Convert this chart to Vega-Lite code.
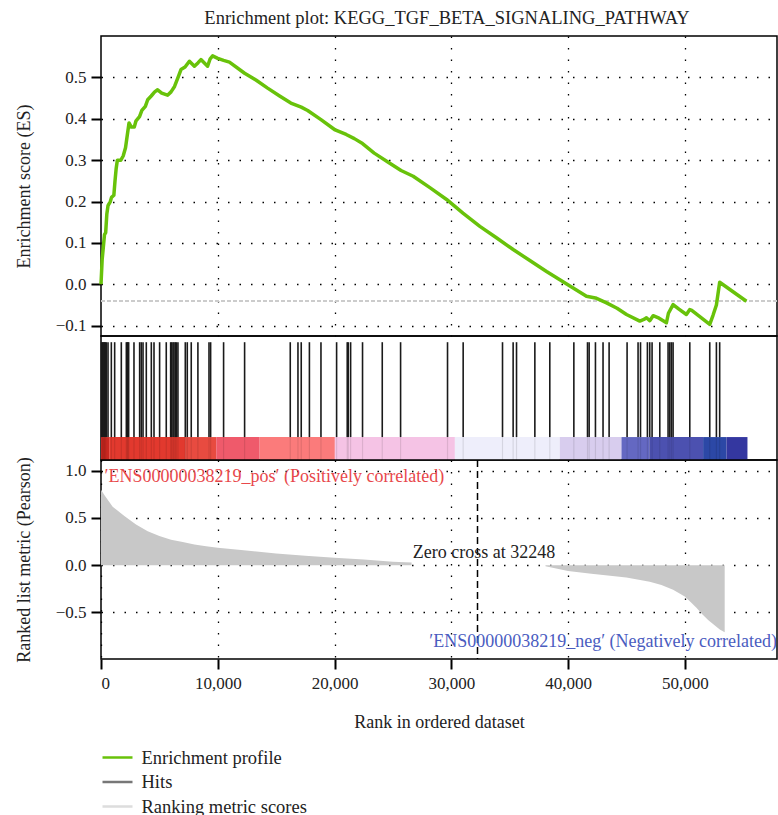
{
  "$schema": "https://vega.github.io/schema/vega-lite/v6.json",
  "padding": {"left": 14, "top": 8, "right": 0, "bottom": 0},
  "background": "white",
  "bounds": "flush",
  "spacing": 0,
  "title": {"text": "Enrichment plot: KEGG_TGF_BETA_SIGNALING_PATHWAY", "font": "Liberation Serif", "fontSize": 18.5, "fontWeight": "normal", "color": "#222", "anchor": "middle", "frame": "group", "offset": 8, "dx": 8},
  "config": {
    "font": "Liberation Serif",
    "view": {"stroke": "#000", "strokeWidth": 1.5},
    "concat": {"spacing": 0},
    "axis": {"labelFont": "Liberation Serif", "labelFontSize": 17, "labelColor": "#222", "titleFont": "Liberation Serif", "titleFontSize": 18, "titleFontWeight": "normal", "titleColor": "#222", "tickColor": "#000", "tickWidth": 2, "tickSize": 10, "domain": false, "gridColor": "#000", "gridDash": [1.5, 10], "gridWidth": 1.3, "gridOpacity": 1, "labelPadding": 5}
  },
  "datasets": {
    "es": [
      {"rank": 0, "es": 0.0}, {"rank": 100, "es": 0.06}, {"rank": 200, "es": 0.09}, {"rank": 300, "es": 0.12}, {"rank": 400, "es": 0.125}, {"rank": 500, "es": 0.17}, {"rank": 600, "es": 0.19}, {"rank": 800, "es": 0.2}, {"rank": 900, "es": 0.21}, {"rank": 1100, "es": 0.215}, {"rank": 1200, "es": 0.25}, {"rank": 1300, "es": 0.28}, {"rank": 1400, "es": 0.3}, {"rank": 1700, "es": 0.3}, {"rank": 1900, "es": 0.31}, {"rank": 2100, "es": 0.33}, {"rank": 2250, "es": 0.36}, {"rank": 2400, "es": 0.39}, {"rank": 2600, "es": 0.38}, {"rank": 2850, "es": 0.38}, {"rank": 3000, "es": 0.395}, {"rank": 3300, "es": 0.405}, {"rank": 3500, "es": 0.42}, {"rank": 3800, "es": 0.43}, {"rank": 4000, "es": 0.446}, {"rank": 4300, "es": 0.455}, {"rank": 4600, "es": 0.465}, {"rank": 4850, "es": 0.47}, {"rank": 5200, "es": 0.462}, {"rank": 5700, "es": 0.457}, {"rank": 6000, "es": 0.465}, {"rank": 6300, "es": 0.478}, {"rank": 6600, "es": 0.5}, {"rank": 6850, "es": 0.519}, {"rank": 7200, "es": 0.525}, {"rank": 7570, "es": 0.539}, {"rank": 8000, "es": 0.527}, {"rank": 8300, "es": 0.535}, {"rank": 8560, "es": 0.543}, {"rank": 9130, "es": 0.527}, {"rank": 9350, "es": 0.545}, {"rank": 9560, "es": 0.552}, {"rank": 10000, "es": 0.546}, {"rank": 10500, "es": 0.541}, {"rank": 11000, "es": 0.537}, {"rank": 12300, "es": 0.51}, {"rank": 13300, "es": 0.493}, {"rank": 14270, "es": 0.474}, {"rank": 15300, "es": 0.455}, {"rank": 16260, "es": 0.438}, {"rank": 17150, "es": 0.428}, {"rank": 17700, "es": 0.42}, {"rank": 18840, "es": 0.398}, {"rank": 20000, "es": 0.374}, {"rank": 21000, "es": 0.362}, {"rank": 21700, "es": 0.352}, {"rank": 22400, "es": 0.34}, {"rank": 23400, "es": 0.317}, {"rank": 24600, "es": 0.295}, {"rank": 25700, "es": 0.275}, {"rank": 26740, "es": 0.261}, {"rank": 28200, "es": 0.233}, {"rank": 29600, "es": 0.205}, {"rank": 31000, "es": 0.172}, {"rank": 32450, "es": 0.14}, {"rank": 33900, "es": 0.112}, {"rank": 35300, "es": 0.084}, {"rank": 36700, "es": 0.058}, {"rank": 38160, "es": 0.031}, {"rank": 39300, "es": 0.011}, {"rank": 40440, "es": -0.009}, {"rank": 41580, "es": -0.029}, {"rank": 42350, "es": -0.033}, {"rank": 43300, "es": -0.045}, {"rank": 44200, "es": -0.058}, {"rank": 45010, "es": -0.073}, {"rank": 46150, "es": -0.089}, {"rank": 46500, "es": -0.085}, {"rank": 46720, "es": -0.081}, {"rank": 47000, "es": -0.088}, {"rank": 47290, "es": -0.076}, {"rank": 47800, "es": -0.082}, {"rank": 48430, "es": -0.093}, {"rank": 48600, "es": -0.07}, {"rank": 49000, "es": -0.049}, {"rank": 49500, "es": -0.06}, {"rank": 50140, "es": -0.073}, {"rank": 50430, "es": -0.061}, {"rank": 50600, "es": -0.063}, {"rank": 52140, "es": -0.097}, {"rank": 52420, "es": -0.075}, {"rank": 52710, "es": -0.05}, {"rank": 52990, "es": 0.005}, {"rank": 55280, "es": -0.041}
    ],
    "hits": [
      {"rank": 50}, {"rank": 140}, {"rank": 180}, {"rank": 255}, {"rank": 300}, {"rank": 370}, {"rank": 450}, {"rank": 600}, {"rank": 885}, {"rank": 1170}, {"rank": 1740}, {"rank": 2170}, {"rank": 2250}, {"rank": 2300}, {"rank": 2370}, {"rank": 2825}, {"rank": 3310}, {"rank": 3450}, {"rank": 3600}, {"rank": 3880}, {"rank": 4310}, {"rank": 4540}, {"rank": 5020}, {"rank": 5590}, {"rank": 5965}, {"rank": 6050}, {"rank": 6165}, {"rank": 6250}, {"rank": 6360}, {"rank": 6450}, {"rank": 6590}, {"rank": 7220}, {"rank": 7390}, {"rank": 7730}, {"rank": 8300}, {"rank": 9250}, {"rank": 9390}, {"rank": 10500}, {"rank": 12300}, {"rank": 16210}, {"rank": 16870}, {"rank": 17150}, {"rank": 17850}, {"rank": 18840}, {"rank": 20180}, {"rank": 21090}, {"rank": 21180}, {"rank": 21380}, {"rank": 22400}, {"rank": 24090}, {"rank": 25660}, {"rank": 29680}, {"rank": 31020}, {"rank": 34390}, {"rank": 35300}, {"rank": 35590}, {"rank": 37160}, {"rank": 38440}, {"rank": 40500}, {"rank": 41670}, {"rank": 41810}, {"rank": 42350}, {"rank": 43000}, {"rank": 43520}, {"rank": 45060}, {"rank": 46000}, {"rank": 46210}, {"rank": 46800}, {"rank": 47000}, {"rank": 47200}, {"rank": 47860}, {"rank": 48570}, {"rank": 48720}, {"rank": 48860}, {"rank": 49000}, {"rank": 50430}, {"rank": 52140}, {"rank": 52710}, {"rank": 52990}
    ],
    "bar": [
      {"start": 0, "end": 700, "tone": "t01"}, {"start": 700, "end": 7200, "tone": "t02"}, {"start": 7200, "end": 9870, "tone": "t03"}, {"start": 9870, "end": 13590, "tone": "t04"}, {"start": 13590, "end": 20030, "tone": "t05"}, {"start": 20030, "end": 30310, "tone": "t06"}, {"start": 30310, "end": 39300, "tone": "t07"}, {"start": 39300, "end": 44580, "tone": "t08"}, {"start": 44580, "end": 47000, "tone": "t09"}, {"start": 47000, "end": 51570, "tone": "t10"}, {"start": 51570, "end": 53570, "tone": "t11"}, {"start": 53570, "end": 55370, "tone": "t12"}
    ],
    "metric": [
      {"rank": 0, "metric": 0.8, "side": "pos"}, {"rank": 300, "metric": 0.74, "side": "pos"}, {"rank": 1000, "metric": 0.62, "side": "pos"}, {"rank": 2000, "metric": 0.52, "side": "pos"}, {"rank": 3000, "metric": 0.43, "side": "pos"}, {"rank": 4000, "metric": 0.36, "side": "pos"}, {"rank": 5000, "metric": 0.31, "side": "pos"}, {"rank": 6000, "metric": 0.27, "side": "pos"}, {"rank": 7000, "metric": 0.245, "side": "pos"}, {"rank": 8000, "metric": 0.22, "side": "pos"}, {"rank": 9000, "metric": 0.2, "side": "pos"}, {"rank": 10000, "metric": 0.185, "side": "pos"}, {"rank": 12000, "metric": 0.16, "side": "pos"}, {"rank": 15000, "metric": 0.125, "side": "pos"}, {"rank": 17500, "metric": 0.1, "side": "pos"}, {"rank": 20000, "metric": 0.08, "side": "pos"}, {"rank": 22500, "metric": 0.06, "side": "pos"}, {"rank": 25000, "metric": 0.037, "side": "pos"}, {"rank": 26600, "metric": 0.03, "side": "pos"},
      {"rank": 38070, "metric": -0.01, "side": "neg"}, {"rank": 40000, "metric": -0.06, "side": "neg"}, {"rank": 42000, "metric": -0.09, "side": "neg"}, {"rank": 45000, "metric": -0.13, "side": "neg"}, {"rank": 47000, "metric": -0.175, "side": "neg"}, {"rank": 48000, "metric": -0.21, "side": "neg"}, {"rank": 49000, "metric": -0.26, "side": "neg"}, {"rank": 50000, "metric": -0.33, "side": "neg"}, {"rank": 50500, "metric": -0.39, "side": "neg"}, {"rank": 51000, "metric": -0.45, "side": "neg"}, {"rank": 51500, "metric": -0.52, "side": "neg"}, {"rank": 52000, "metric": -0.58, "side": "neg"}, {"rank": 52500, "metric": -0.63, "side": "neg"}, {"rank": 53000, "metric": -0.68, "side": "neg"}, {"rank": 53420, "metric": -0.71, "side": "neg"}
    ],
    "series": [
      {"series": "Enrichment profile"}, {"series": "Hits"}, {"series": "Ranking metric scores"}
    ]
  },
  "vconcat": [
    {
      "width": 676,
      "height": 300,
      "layer": [
        {
          "data": {"name": "es"},
          "mark": {"type": "rule", "stroke": "#cccccc", "strokeWidth": 1.2, "strokeDash": [4, 2]},
          "encoding": {"y": {"datum": -0.04, "type": "quantitative", "scale": {"domain": [-0.125, 0.6], "nice": false, "zero": false}}}
        },
        {
          "data": {"name": "es"},
          "mark": {"type": "line", "stroke": "#68c20a", "strokeWidth": 3.5, "strokeJoin": "round"},
          "encoding": {
            "x": {"field": "rank", "type": "quantitative", "scale": {"domain": [0, 57900], "nice": false, "zero": false},
              "axis": {"values": [10000, 20000, 30000, 40000, 50000], "labels": false, "ticks": false, "title": null, "grid": true}},
            "y": {"field": "es", "type": "quantitative", "scale": {"domain": [-0.125, 0.6], "nice": false, "zero": false},
              "axis": {"values": [-0.1, 0, 0.1, 0.2, 0.3, 0.4, 0.5], "format": ".1f", "title": "Enrichment score (ES)", "grid": true, "titlePadding": 22}}
          }
        }
      ]
    },
    {
      "width": 676,
      "height": 124,
      "layer": [
        {
          "data": {"name": "bar"},
          "mark": {"type": "rect"},
          "encoding": {
            "x": {"field": "start", "type": "quantitative", "scale": {"domain": [0, 57900], "nice": false, "zero": false}, "axis": null},
            "x2": {"field": "end"},
            "y": {"datum": 0, "type": "quantitative", "scale": {"domain": [0, 100], "nice": false}, "axis": null},
            "y2": {"datum": 18.5},
            "fill": {"field": "tone", "type": "nominal", "legend": null,
              "scale": {"domain": ["t01", "t02", "t03", "t04", "t05", "t06", "t07", "t08", "t09", "t10", "t11", "t12"],
                "range": ["#d62a22", "#e2392e", "#e84b40", "#ef5a6b", "#fb7b7b", "#f5c3e5", "#eeeefb", "#d8cdee", "#6468c2", "#4c51b0", "#2c48a6", "#3437a0"]}}
          }
        },
        {
          "data": {"name": "hits"},
          "mark": {"type": "rule", "stroke": "#000", "strokeWidth": 1.2, "opacity": 0.1},
          "encoding": {
            "x": {"field": "rank", "type": "quantitative", "scale": {"domain": [0, 57900], "nice": false, "zero": false}, "axis": null},
            "y": {"datum": 0, "type": "quantitative", "scale": {"domain": [0, 100], "nice": false}, "axis": null},
            "y2": {"datum": 18.5}
          }
        },
        {
          "data": {"name": "hits"},
          "mark": {"type": "rule", "stroke": "#1a1a1a", "strokeWidth": 1.6},
          "encoding": {
            "x": {"field": "rank", "type": "quantitative", "scale": {"domain": [0, 57900], "nice": false, "zero": false}, "axis": null},
            "y": {"datum": 18.5, "type": "quantitative", "scale": {"domain": [0, 100], "nice": false}, "axis": null},
            "y2": {"datum": 95}
          }
        }
      ]
    },
    {
      "width": 676,
      "height": 199,
      "layer": [
        {
          "data": {"name": "metric"},
          "mark": {"type": "area", "fill": "#c8c8c8"},
          "encoding": {
            "x": {"field": "rank", "type": "quantitative", "scale": {"domain": [0, 57900], "nice": false, "zero": false},
              "axis": {"values": [0, 10000, 20000, 30000, 40000, 50000], "format": ",d", "title": "Rank in ordered dataset", "grid": true, "titlePadding": 22, "labelPadding": 6}},
            "y": {"field": "metric", "type": "quantitative", "scale": {"domain": [-0.993, 1.114], "nice": false, "zero": false},
              "axis": {"values": [-0.5, 0, 0.5, 1.0], "format": ".1f", "title": "Ranked list metric (Pearson)", "grid": true, "titlePadding": 22}},
            "y2": {"datum": 0},
            "detail": {"field": "side", "type": "nominal"}
          }
        },
        {
          "data": {"name": "series"},
          "mark": {"type": "rule", "opacity": 0},
          "encoding": {
            "x": {"datum": 0, "type": "quantitative"},
            "color": {"field": "series", "type": "nominal",
              "scale": {"domain": ["Enrichment profile", "Hits", "Ranking metric scores"], "range": ["#68c20a", "#777777", "#dddddd"]},
              "legend": {"orient": "none", "legendX": 5, "legendY": 710, "title": null, "symbolType": "M-1.5,0L1.5,0", "symbolStrokeWidth": 2.5, "symbolSize": 400, "symbolOpacity": 1, "labelFontSize": 18.5, "labelFont": "Liberation Serif", "labelColor": "#222", "labelLimit": 0, "rowPadding": 3.5, "labelOffset": 12.5}}
          }
        },
        {
          "data": {"values": [{"label": "Zero cross at 32248"}]},
          "mark": {"type": "rule", "stroke": "#000", "strokeWidth": 1.5, "strokeDash": [7, 4]},
          "encoding": {"x": {"datum": 32248, "type": "quantitative"}}
        },
        {
          "data": {"values": [{"label": "Zero cross at 32248"}]},
          "mark": {"type": "text", "align": "left", "baseline": "middle", "fontSize": 18, "font": "Liberation Serif", "color": "#222"},
          "encoding": {"x": {"datum": 26700, "type": "quantitative"}, "y": {"datum": 0.125, "type": "quantitative"}, "text": {"field": "label"}}
        },
        {
          "data": {"values": [{"label": "′ENS00000038219_pos′ (Positively correlated)"}]},
          "mark": {"type": "text", "align": "left", "baseline": "middle", "fontSize": 18, "font": "Liberation Serif", "color": "#e8484b"},
          "encoding": {"x": {"datum": 300, "type": "quantitative"}, "y": {"datum": 0.93, "type": "quantitative"}, "text": {"field": "label"}}
        },
        {
          "data": {"values": [{"label": "′ENS00000038219_neg′ (Negatively correlated)"}]},
          "mark": {"type": "text", "align": "right", "baseline": "middle", "fontSize": 18, "font": "Liberation Serif", "color": "#4a5cbf"},
          "encoding": {"x": {"datum": 57900, "type": "quantitative"}, "y": {"datum": -0.81, "type": "quantitative"}, "text": {"field": "label"}}
        }
      ]
    }
  ]
}
